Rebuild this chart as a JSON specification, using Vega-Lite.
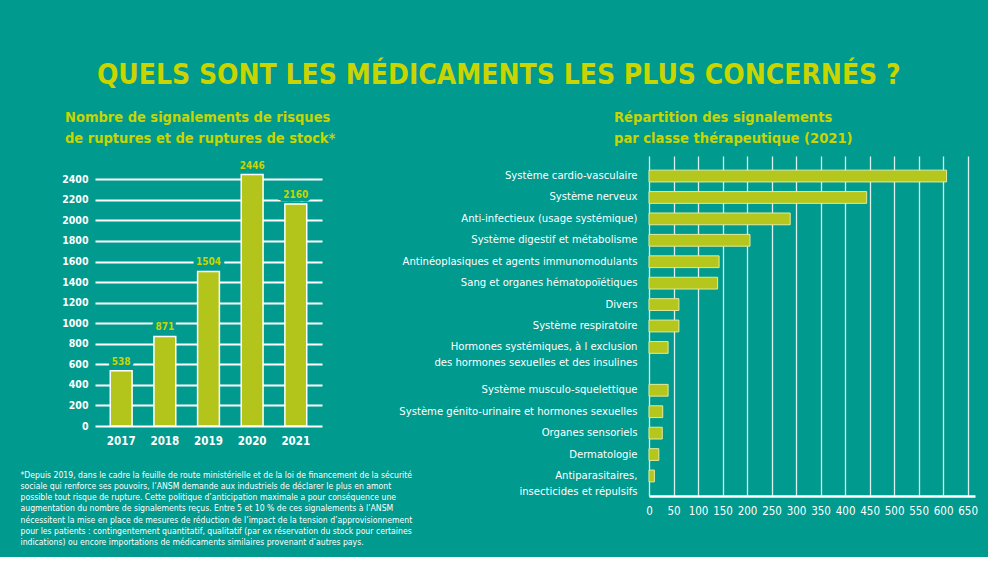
{
  "$schema": "https://vega.github.io/schema/vega-lite/v6.json",
  "background": "#009a8e",
  "padding": {"left": 20, "top": 61, "right": 10, "bottom": 10},
  "bounds": "flush",
  "spacing": 327,
  "title": {
    "text": "QUELS SONT LES MÉDICAMENTS LES PLUS CONCERNÉS ?",
    "color": "#c9d400",
    "font": "Liberation Sans Narrow, DejaVu Sans Condensed, Roboto Condensed, sans-serif",
    "fontSize": 28,
    "fontWeight": "bold",
    "anchor": "middle",
    "offset": 20
  },
  "config": {
    "view": {"stroke": null},
    "font": "Liberation Sans Narrow, DejaVu Sans Condensed, Roboto Condensed, sans-serif"
  },
  "hconcat": [
    {
      "width": 227,
      "height": 270,
      "title": {
        "text": ["Nombre de signalements de risques", "de ruptures et de ruptures de stock*"],
        "color": "#c9d400",
        "fontSize": 14.5,
        "fontWeight": "bold",
        "anchor": "start",
        "frame": "group",
        "dx": -30,
        "lineHeight": 21,
        "offset": 10
      },
      "data": {"values": [
        {"annee": "2017", "n": 538},
        {"annee": "2018", "n": 871},
        {"annee": "2019", "n": 1504},
        {"annee": "2020", "n": 2446},
        {"annee": "2021", "n": 2160}
      ]},
      "encoding": {
        "x": {
          "field": "annee", "type": "nominal",
          "scale": {"paddingInner": 0.5, "paddingOuter": 0.35},
          "axis": {
            "labelAngle": 0, "labelColor": "white", "labelFontSize": 11.5, "labelFontWeight": "bold",
            "labelPadding": 9, "domain": false, "ticks": false, "grid": false,
            "title": [
              "*Depuis 2019, dans le cadre la feuille de route ministérielle et de la loi de financement de la sécurité",
              "sociale qui renforce ses pouvoirs, l’ANSM demande aux industriels de déclarer le plus en amont",
              "possible tout risque de rupture. Cette politique d’anticipation maximale a pour conséquence une",
              "augmentation du nombre de signalements reçus. Entre 5 et 10 % de ces signalements à l’ANSM",
              "nécessitent la mise en place de mesures de réduction de l’impact de la tension d’approvisionnement",
              "pour les patients : contingentement quantitatif, qualitatif (par ex réservation du stock pour certaines",
              "indications) ou encore importations de médicaments similaires provenant d’autres pays."
            ],
            "titleColor": "white", "titleFontSize": 8.6, "titleFontWeight": "normal",
            "titleX": -75, "titleY": 44, "titleAlign": "left", "titleBaseline": "top",
            "titleAnchor": "start", "titleLineHeight": 11.3,
            "titleFont": "Liberation Sans Narrow, DejaVu Sans Condensed, sans-serif"
          }
        },
        "y": {
          "field": "n", "type": "quantitative",
          "scale": {"domain": [0, 2627], "nice": false},
          "axis": {
            "values": [0, 200, 400, 600, 800, 1000, 1200, 1400, 1600, 1800, 2000, 2200, 2400],
            "format": "d",
            "labelColor": "white", "labelFontSize": 10.5, "labelFontWeight": "bold",
            "labelPadding": 7, "domain": false, "ticks": false,
            "grid": true, "gridColor": "white", "gridWidth": 2, "gridOpacity": 1,
            "title": null
          }
        }
      },
      "layer": [
        {"mark": {"type": "bar", "color": "#b3c51b", "stroke": "white", "strokeWidth": 1.5}},
        {"mark": {"type": "text", "dy": -9, "fontSize": 10, "fontWeight": "bold", "fill": "#009a8e", "stroke": "#009a8e", "strokeWidth": 7},
         "encoding": {"text": {"field": "n", "type": "quantitative", "format": "d"}}},
        {"mark": {"type": "text", "dy": -9, "fontSize": 10, "fontWeight": "bold", "color": "#c9d400"},
         "encoding": {"text": {"field": "n", "type": "quantitative", "format": "d"}}}
      ]
    },
    {
      "width": 326,
      "height": 340,
      "title": {
        "text": ["Répartition des signalements", "par classe thérapeutique (2021)"],
        "color": "#c9d400",
        "fontSize": 14.6,
        "fontWeight": "bold",
        "anchor": "start",
        "frame": "group",
        "dx": -35,
        "lineHeight": 21,
        "offset": 10
      },
      "data": {"values": [
        {"classe": "Système cardio-vasculaire", "n": 607},
        {"classe": "Système nerveux", "n": 444},
        {"classe": "Anti-infectieux (usage systémique)", "n": 288},
        {"classe": "Système digestif et métabolisme", "n": 206},
        {"classe": "Antinéoplasiques et agents immunomodulants", "n": 143},
        {"classe": "Sang et organes hématopoïétiques", "n": 140},
        {"classe": "Divers", "n": 61},
        {"classe": "Système respiratoire", "n": 61},
        {"classe": "Hormones systémiques, à l exclusion|des hormones sexuelles et des insulines", "n": 39},
        {"classe": "Système musculo-squelettique", "n": 39},
        {"classe": "Système génito-urinaire et hormones sexuelles", "n": 28},
        {"classe": "Organes sensoriels", "n": 27},
        {"classe": "Dermatologie", "n": 20},
        {"classe": "Antiparasitaires,|insecticides et répulsifs", "n": 11}
      ]},
      "mark": {"type": "bar", "color": "#b5c61c", "stroke": "#e3ea9a", "strokeWidth": 1},
      "encoding": {
        "y": {
          "field": "classe", "type": "nominal",
          "scale": {
            "domain": [
              "Système cardio-vasculaire",
              "Système nerveux",
              "Anti-infectieux (usage systémique)",
              "Système digestif et métabolisme",
              "Antinéoplasiques et agents immunomodulants",
              "Sang et organes hématopoïétiques",
              "Divers",
              "Système respiratoire",
              "Hormones systémiques, à l exclusion|des hormones sexuelles et des insulines",
              " ",
              "Système musculo-squelettique",
              "Système génito-urinaire et hormones sexuelles",
              "Organes sensoriels",
              "Dermatologie",
              "Antiparasitaires,|insecticides et répulsifs"
            ],
            "paddingInner": 0.45, "paddingOuter": 0.66
          },
          "axis": {
            "labelExpr": "split(datum.label, '|')",
            "labelColor": "white", "labelFontSize": 11.2, "labelPadding": 12,
            "labelLineHeight": 16, "labelLimit": 400,
            "domain": false, "ticks": false, "grid": false, "title": null
          }
        },
        "x": {
          "field": "n", "type": "quantitative",
          "scale": {"domain": [0, 665], "nice": false},
          "axis": {
            "values": [0, 50, 100, 150, 200, 250, 300, 350, 400, 450, 500, 550, 600, 650],
            "labelColor": "white", "labelFontSize": 11.5, "labelPadding": 9,
            "domain": true, "domainColor": "white", "domainWidth": 2.5,
            "ticks": false, "grid": true, "gridColor": "white", "gridWidth": 1.3, "gridOpacity": 0.85,
            "title": null, "labelFlush": false
          }
        }
      }
    }
  ]
}
